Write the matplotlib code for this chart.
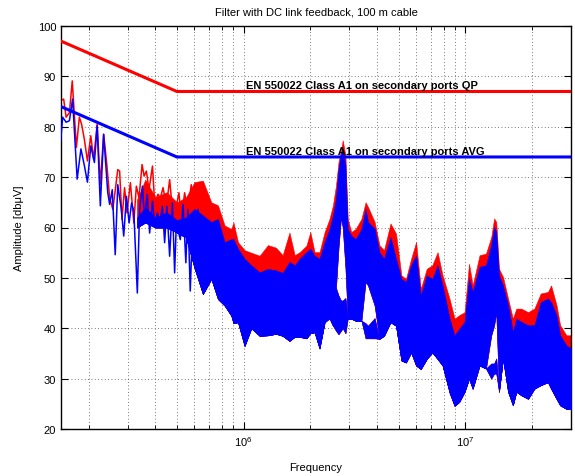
import numpy as np
import matplotlib.pyplot as plt
from matplotlib.ticker import LogLocator, NullFormatter

plt.rcParams['font.family'] = ['Liberation Sans', 'DejaVu Sans']

# low frequency part of the sweep, single peaks can be read (kHz, dBuV)
red_f = [149.5, 154.2, 158.2, 163.7, 168.6, 176.0, 181.5, 185.8, 191.2, 197.4,
         204.4, 210.5, 218.4, 225.7, 233.6, 241.7, 248.6, 257.0, 263.7, 270.5,
         275.8, 282.6, 290.4, 297.7, 308.4, 319.6, 328.1, 337.3, 348.3, 355.7,
         364.2, 374.2, 388.0, 396.8, 410.9, 421.4, 433.0, 448.6, 463.7, 477.1,
         497.1, 510.7, 523.6, 541.9, 560.3, 580.3, 601.2, 616.1, 633.3]
red_db = [85.2, 85.5, 81.9, 82.8, 89.1, 75.9, 81.9, 80.5, 77.5, 73.2,
          78.2, 73.6, 80.5, 68.6, 78.5, 72.3, 65.9, 63.6, 67.5, 71.5,
          71.2, 61.6, 67.9, 62.9, 68.9, 60.9, 68.2, 65.9, 72.5, 70.2,
          71.2, 67.5, 72.2, 64.9, 66.6, 65.9, 67.9, 64.2, 69.5, 63.6,
          64.2, 66.9, 61.6, 66.9, 62.9, 68.5, 61.6, 66.6, 67.2]

blue_f = [149.5, 152.6, 158.2, 163.7, 169.2, 177.4, 184.5, 191.2, 197.4, 204.4,
          212.2, 218.4, 225.7, 233.6, 243.7, 248.6, 255.5, 263.5, 270.5, 280.7,
          287.8, 296.0, 304.3, 312.3, 319.6, 331.5, 339.4, 349.4, 357.5, 367.6,
          376.7, 388.0, 396.8, 408.4, 417.9, 430.1, 440.2, 450.6, 463.7, 477.1,
          488.4, 497.1, 518.0, 533.1, 548.8, 560.3, 574.3, 590.6, 607.9, 622.8,
          633.3]
blue_db = [77.2, 81.9, 80.9, 81.2, 85.5, 69.6, 75.6, 72.3, 69.0, 76.2,
           72.9, 80.2, 64.3, 78.5, 67.0, 64.6, 67.5, 54.6, 68.5, 63.6,
           58.3, 66.2, 60.9, 64.9, 63.2, 47.0, 63.6, 68.2, 61.6, 66.6,
           58.9, 65.2, 60.3, 62.9, 60.6, 64.2, 57.0, 64.2, 54.3, 64.9,
           51.0, 60.9, 57.6, 64.6, 53.0, 63.6, 47.4, 62.3, 60.9, 63.6,
           61.6]

# dense part of the sweep, read as envelopes (kHz, dBuV)
band_f = [330, 360, 400, 450, 500, 550,
          600, 655, 715, 766, 821, 880, 900, 943, 1010, 1083,
          1181, 1287, 1400, 1500, 1610, 1700, 1790, 1920, 2000, 2090,
          2200, 2320, 2440, 2530, 2610, 2680, 2750, 2800, 2880, 2950,
          3060, 3200, 3400, 3550, 3640, 3900, 4100, 4300, 4600, 4870,
          5150, 5400, 5700, 6000, 6300, 6700, 7100, 7500, 7900, 8500,
          8950, 9400, 9930, 10400, 10800, 11600, 12400, 13100, 13500, 13800,
          14200, 14800, 15600, 16400, 17000, 17900, 19200, 20500, 21900, 23600,
          24400, 25800, 26800, 28600, 30000]
red_hi = [65.5, 69.5, 66.0, 67.0, 65.0, 66.0,
          69.0, 69.3, 65.0, 64.4, 60.4, 59.7, 61.0, 57.1, 55.5, 55.0,
          54.4, 56.5, 56.0, 54.5, 59.0, 54.5, 55.1, 56.4, 59.1, 55.1,
          55.1, 59.1, 61.7, 64.4, 68.3, 73.0, 75.3, 77.3, 74.3, 61.7,
          59.1, 59.7, 61.7, 65.0, 64.1, 61.1, 56.5, 55.5, 60.8, 58.8,
          50.5, 49.8, 53.8, 57.1, 47.8, 51.8, 52.5, 55.1, 50.5, 45.8,
          41.9, 42.6, 43.2, 52.8, 48.5, 54.5, 54.8, 58.1, 61.8, 61.1,
          51.8, 50.2, 45.9, 41.9, 43.9, 43.9, 43.2, 43.9, 46.9, 47.2,
          48.5, 44.6, 40.6, 38.6, 38.6]
blue_hi = [62.0, 64.0, 62.0, 63.0, 61.5, 62.0,
           63.7, 62.4, 61.1, 61.7, 57.1, 57.7, 57.7, 55.8, 53.8, 52.5,
           51.1, 51.8, 51.5, 51.0, 53.2, 52.5, 53.8, 55.1, 55.8, 54.4,
           53.8, 57.1, 59.7, 62.4, 65.7, 71.7, 74.6, 75.6, 72.3, 59.7,
           58.4, 57.7, 59.7, 63.7, 61.1, 59.8, 55.1, 53.8, 58.1, 53.8,
           49.8, 49.2, 52.5, 54.5, 46.5, 50.5, 49.8, 52.5, 48.5, 41.9,
           38.6, 39.9, 41.3, 49.9, 47.2, 52.2, 52.5, 56.5, 60.1, 59.1,
           50.5, 48.5, 44.6, 39.3, 41.9, 41.3, 40.6, 40.6, 45.2, 45.9,
           45.2, 42.6, 38.6, 36.6, 36.0]
gap_top = [60.0, 61.0, 60.0, 60.0, 59.0, 58.0,
           52.0, 46.8, 49.8, 45.8, 44.5, 42.5, 41.0, 41.2, 36.5, 40.0,
           38.5, 38.6, 38.9, 38.5, 37.5, 38.3, 38.3, 38.0, 39.0, 39.2,
           36.0, 41.2, 42.0, 40.5, 48.0, 56.0, 62.0, 60.0, 52.0, 41.9,
           41.9, 41.5, 41.5, 49.2, 48.5, 44.5, 37.9, 38.5, 41.2, 40.5,
           33.6, 33.2, 35.2, 32.6, 31.9, 33.9, 35.2, 33.9, 32.6, 27.2,
           24.6, 25.4, 27.4, 30.0, 28.0, 32.6, 32.0, 38.6, 40.6, 43.2,
           27.4, 34.0, 27.4, 24.7, 27.4, 26.7, 26.0, 28.0, 28.7, 29.3,
           28.0, 26.0, 24.7, 24.0, 24.0]
gap_bot = [60.0, 61.0, 60.0, 60.0, 59.0, 58.0,
           52.0, 46.8, 49.8, 45.8, 44.5, 42.5, 41.0, 41.2, 36.5, 40.0,
           38.5, 38.6, 38.9, 38.5, 37.5, 38.3, 38.3, 38.0, 39.0, 39.2,
           36.0, 41.2, 42.0, 40.5, 48.0, 46.5, 45.5, 45.5, 46.0, 41.9,
           41.9, 41.5, 41.5, 41.0, 40.5, 42.0, 37.9, 38.5, 41.2, 40.5,
           33.6, 33.2, 35.2, 32.6, 31.9, 33.9, 35.2, 33.9, 32.6, 27.2,
           24.6, 25.4, 27.4, 30.0, 28.0, 32.6, 32.0, 33.0, 33.0, 34.0,
           27.4, 34.0, 27.4, 24.7, 27.4, 26.7, 26.0, 28.0, 28.7, 29.3,
           28.0, 26.0, 24.7, 24.0, 24.0]
blue_lo = [60.0, 61.0, 60.0, 60.0, 59.0, 58.0,
           52.0, 46.8, 49.8, 45.8, 44.5, 42.5, 41.0, 41.2, 36.5, 40.0,
           38.5, 38.6, 38.9, 38.5, 37.5, 38.3, 38.3, 38.0, 39.0, 39.2,
           36.0, 41.2, 42.0, 40.5, 39.5, 38.8, 39.5, 40.0, 39.0, 41.9,
           41.9, 41.5, 41.5, 38.0, 38.0, 38.0, 37.9, 38.5, 41.2, 40.5,
           33.6, 33.2, 35.2, 32.6, 31.9, 33.9, 35.2, 33.9, 32.6, 27.2,
           24.6, 25.4, 27.4, 30.0, 28.0, 32.6, 32.0, 30.0, 31.0, 31.0,
           27.4, 34.0, 27.4, 24.7, 27.4, 26.7, 26.0, 28.0, 28.7, 29.3,
           28.0, 26.0, 24.7, 24.0, 24.0]

# EN 55022 class A limits
lim_f = [150, 500, 30000]
qp_lim = [97, 87, 87]
avg_lim = [84, 74, 74]

red_f = np.array(red_f) * 1e3
blue_f = np.array(blue_f) * 1e3
band_f = np.array(band_f) * 1e3
lim_f = np.array(lim_f) * 1e3

fig = plt.figure(figsize=(5.75, 4.77), dpi=100)
ax = fig.add_axes([61 / 575, 47 / 477, 510 / 575, 403 / 477])
ax.set_xscale('log')

# red (QP) trace
ax.plot(red_f, red_db, color='#ff0000', lw=1.1, zorder=2)
ax.fill_between(band_f, gap_top, red_hi, color='#ff0000', lw=0.4, zorder=2)
ax.fill_between(band_f, blue_lo, gap_bot, color='#ff0000', lw=0.4, zorder=2)
# blue (AVG) trace
ax.plot(blue_f, blue_db, color='#0000ff', lw=1.1, zorder=3)
ax.fill_between(band_f, gap_top, blue_hi, color='#0000ff', lw=0.4, zorder=3)
ax.fill_between(band_f, blue_lo, gap_bot, color='#0000ff', lw=0.4, zorder=3)

ax.plot(lim_f, qp_lim, color='#ff0000', lw=2.2, zorder=4)
ax.plot(lim_f, avg_lim, color='#0000ff', lw=2.2, zorder=4)

ax.text(1.02e6, 87.6, 'EN 550022 Class A1 on secondary ports QP',
        fontsize=8, fontweight='bold', zorder=5)
ax.text(1.02e6, 74.6, 'EN 550022 Class A1 on secondary ports AVG',
        fontsize=8, fontweight='bold', zorder=5)

ax.set_xlim(150e3, 30e6)
ax.set_ylim(20, 100)
ax.set_yticks(range(20, 101, 10))
ax.xaxis.set_major_locator(LogLocator(base=10))
ax.xaxis.set_minor_locator(LogLocator(base=10, subs=range(2, 10)))
ax.xaxis.set_minor_formatter(NullFormatter())

ax.grid(True, which='both', axis='x', color='0.3', ls=(0, (1, 3)), lw=0.6)
ax.grid(True, which='major', axis='y', color='0.3', ls=(0, (1, 3)), lw=0.6)
ax.tick_params(which='both', direction='in', top=True, right=True, labelsize=8)
ax.tick_params(which='major', length=5)
ax.tick_params(which='minor', length=3)
for s in ax.spines.values():
    s.set_linewidth(1.0)

ax.set_title('Filter with DC link feedback, 100 m cable', fontsize=8, pad=8)
ax.set_xlabel('Frequency', fontsize=8, labelpad=10)
ax.set_ylabel('Amplitude [db\u03bcV]', fontsize=8, labelpad=10)

plt.savefig('out.png', dpi=100)
